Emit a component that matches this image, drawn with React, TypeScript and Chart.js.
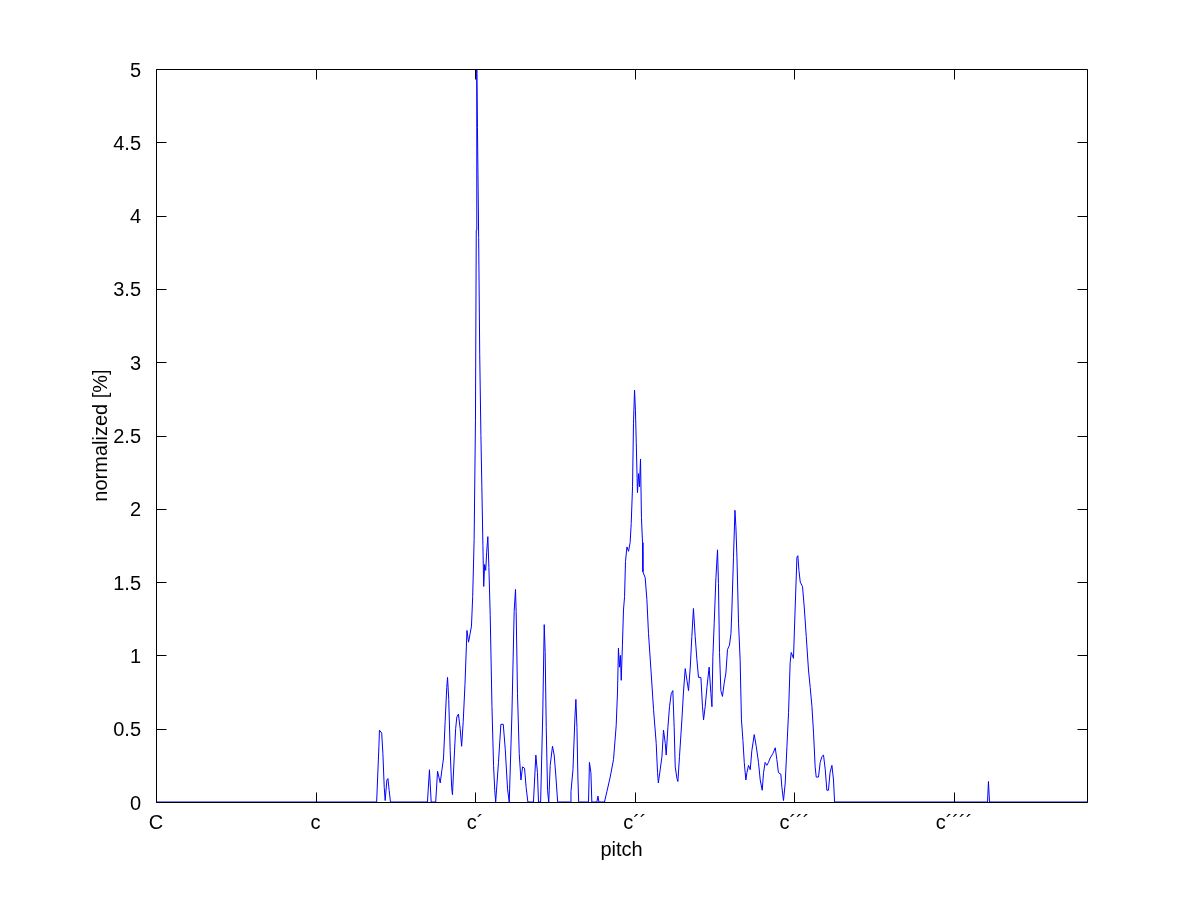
import { useEffect, useRef } from "react";
import { Chart, registerables } from "chart.js";

Chart.register(...registerables);

// Pitch axis in semitones above C (C = 0, c = 12, c´ = 24, ...)
const pitchSemitones: number[] = [
  0, 16.59, 16.76, 16.8, 16.97, 17.06, 17.16, 17.23, 17.36, 17.44, 17.53, 17.63,
  20.41, 20.56, 20.69, 21.03, 21.17, 21.37, 21.5, 21.62, 21.74, 21.86, 21.92, 22.01,
  22.12, 22.23, 22.29, 22.42, 22.53, 22.62, 22.74, 22.87, 22.98, 23.1, 23.23, 23.38,
  23.5, 23.62, 23.72, 23.81, 23.92, 24.02, 24.08, 24.12, 24.17, 24.26, 24.34, 24.43,
  24.5, 24.58, 24.64, 24.71, 24.79, 24.86, 24.95, 25.03, 25.13, 25.26, 25.38, 25.47,
  25.54, 25.75, 25.93, 26.11, 26.26, 26.43, 26.56, 26.76, 26.93, 27.03, 27.08, 27.18,
  27.31, 27.44, 27.56, 27.71, 27.83, 27.96, 28.38, 28.56, 28.68, 28.76, 28.92, 29.08,
  29.19, 29.26, 29.34, 29.44, 29.53, 29.64, 29.81, 29.94, 30.07, 30.2, 31.14, 31.2,
  31.35, 31.5, 31.57, 31.65, 31.72, 31.78, 32.52, 32.59, 32.7, 32.77, 33.15, 33.23,
  33.3, 33.72, 33.9, 34.15, 34.4, 34.6, 34.7, 34.77, 34.85, 34.92, 34.98, 35.07,
  35.15, 35.23, 35.3, 35.41, 35.53, 35.65, 35.73, 35.83, 35.9, 35.98, 36.05, 36.11,
  36.2, 36.28, 36.35, 36.43, 36.5, 36.58, 36.61, 36.78, 36.91, 37.03, 37.23, 37.41,
  37.61, 37.71, 37.77, 37.91, 38.04, 38.16, 38.29, 38.36, 38.49, 38.61, 38.74, 38.86,
  38.96, 39.04, 39.17, 39.24, 39.36, 39.54, 39.66, 39.79, 39.92, 40.04, 40.17, 40.29,
  40.41, 40.54, 40.67, 40.79, 40.97, 41.09, 41.17, 41.29, 41.42, 41.59, 41.72, 41.8,
  41.87, 41.97, 42.1, 42.22, 42.29, 42.37, 42.47, 42.59, 42.72, 42.85, 42.97, 43.12,
  43.23, 43.3, 43.42, 43.53, 43.6, 43.68, 43.8, 43.92, 44.02, 44.13, 44.23, 44.35,
  44.43, 44.55, 44.68, 44.8, 44.98, 45.13, 45.3, 45.43, 45.58, 45.68, 45.8, 45.93,
  46.05, 46.18, 46.38, 46.56, 46.68, 46.8, 46.98, 47.06, 47.18, 47.31, 47.44, 47.56,
  47.68, 47.76, 47.93, 48.06, 48.19, 48.26, 48.34, 48.44, 48.61, 48.74, 48.89, 49.06,
  49.19, 49.32, 49.44, 49.56, 49.64, 49.81, 49.94, 50.07, 50.19, 50.32, 50.44, 50.56,
  50.68, 50.82, 50.94, 51.02, 62.52, 62.59, 62.67, 70,
];

// Normalized occurrence [%] for each pitch value above
const normalizedPercent: number[] = [
  0, 0, 0.38, 0.49, 0.47, 0.33, 0.1, 0.01, 0.15, 0.16, 0.08, 0,
  0, 0.22, 0, 0, 0.21, 0.13, 0.22, 0.3, 0.55, 0.78, 0.85, 0.7,
  0.35, 0.1, 0.05, 0.3, 0.5, 0.58, 0.6, 0.5, 0.38, 0.55, 0.8, 1.17,
  1.09, 1.15, 1.2, 1.4, 1.79, 2.6, 3.9, 5.0, 4.6, 3.85, 3.05, 2.5,
  2.15, 1.75, 1.47, 1.62, 1.58, 1.7, 1.81, 1.6, 1.27, 0.65, 0.25, 0.08,
  0, 0.27, 0.53, 0.53, 0.36, 0.09, 0, 0.6, 1.3, 1.45, 1.3, 0.74,
  0.33, 0.15, 0.24, 0.23, 0.1, 0, 0, 0.32, 0.2, 0, 0, 0.6,
  1.21, 1.02, 0.51, 0.08, 0, 0.25, 0.38, 0.32, 0.17, 0, 0, 0.07,
  0.22, 0.58, 0.7, 0.51, 0.17, 0, 0, 0.27, 0.2, 0, 0, 0.04,
  0, 0, 0.07, 0.17, 0.29, 0.52, 0.75, 1.05, 0.92, 1.0, 0.83, 1.07,
  1.31, 1.4, 1.64, 1.74, 1.71, 1.77, 1.9, 2.15, 2.58, 2.81, 2.67, 2.45,
  2.11, 2.24, 2.15, 2.34, 1.94, 1.77, 1.57, 1.53, 1.38, 1.15, 0.88, 0.63,
  0.4, 0.2, 0.13, 0.22, 0.31, 0.49, 0.4, 0.32, 0.51, 0.65, 0.74, 0.76,
  0.51, 0.24, 0.16, 0.14, 0.31, 0.56, 0.75, 0.91, 0.83, 0.76, 0.92, 1.13,
  1.32, 1.13, 0.97, 0.85, 0.85, 0.65, 0.56, 0.65, 0.78, 0.92, 0.74, 0.65,
  0.99, 1.22, 1.53, 1.72, 1.49, 1.02, 0.76, 0.72, 0.81, 0.88, 1.04, 1.07,
  1.15, 1.31, 1.67, 1.99, 1.88, 1.67, 1.22, 0.97, 0.56, 0.42, 0.27, 0.15,
  0.2, 0.25, 0.22, 0.35, 0.46, 0.38, 0.27, 0.15, 0.08, 0.2, 0.27, 0.25,
  0.27, 0.3, 0.33, 0.37, 0.29, 0.2, 0.19, 0.1, 0.01, 0.13, 0.38, 0.61,
  0.95, 1.02, 0.98, 1.33, 1.67, 1.68, 1.58, 1.5, 1.47, 1.33, 1.13, 0.9,
  0.78, 0.65, 0.47, 0.24, 0.17, 0.17, 0.27, 0.31, 0.32, 0.22, 0.08, 0.08,
  0.2, 0.25, 0.15, 0, 0, 0.14, 0, 0,
];

const octaveTickValues: number[] = [0, 12, 24, 36, 48, 60];
const octaveTickLabels: string[] = ["C", "c", "c\u00B4", "c\u00B4\u00B4", "c\u00B4\u00B4\u00B4", "c\u00B4\u00B4\u00B4\u00B4"];
const yTickValues: number[] = [0, 0.5, 1, 1.5, 2, 2.5, 3, 3.5, 4, 4.5, 5];

const FONT_FAMILY = "'Liberation Sans', Arial, Helvetica, sans-serif";
const FONT_SIZE = 20;
const TICK_LEN = 10;

const matlabAxesPlugin = {
  id: "matlabAxes",
  afterDatasetsDraw(chart: any) {
    const { ctx, chartArea, scales } = chart;
    const { left, right, top, bottom } = chartArea;
    const L = Math.round(left) + 0.5;
    const R = Math.round(right) + 0.5;
    const T = Math.round(top) + 0.5;
    const B = Math.round(bottom) + 0.5;
    ctx.save();
    ctx.strokeStyle = "#000000";
    ctx.lineWidth = 1;
    ctx.beginPath();
    ctx.moveTo(L, T);
    ctx.lineTo(R, T);
    ctx.lineTo(R, B);
    ctx.lineTo(L, B);
    ctx.closePath();
    for (const v of yTickValues) {
      const py = Math.round(scales.y.getPixelForValue(v)) + 0.5;
      ctx.moveTo(L, py);
      ctx.lineTo(L + TICK_LEN, py);
      ctx.moveTo(R, py);
      ctx.lineTo(R - TICK_LEN, py);
    }
    for (const v of octaveTickValues) {
      const px = Math.round(scales.x.getPixelForValue(v)) + 0.5;
      ctx.moveTo(px, B);
      ctx.lineTo(px, B - TICK_LEN);
      ctx.moveTo(px, T);
      ctx.lineTo(px, T + TICK_LEN);
    }
    ctx.stroke();
    ctx.restore();
  },
};

export default function App() {
  const canvasRef = useRef<HTMLCanvasElement | null>(null);

  useEffect(() => {
    document.body.style.margin = "0";
    const canvas = canvasRef.current;
    if (!canvas) return;
    const points = pitchSemitones.map((p, i) => ({ x: p, y: normalizedPercent[i] }));
    const font = { family: FONT_FAMILY, size: FONT_SIZE };
    const chart = new Chart(canvas, {
      type: "line",
      data: {
        datasets: [
          {
            data: points,
            borderColor: "#0000ff",
            borderWidth: 1,
            pointRadius: 0,
            tension: 0,
            fill: false,
          },
        ],
      },
      options: {
        responsive: false,
        animation: false,
        devicePixelRatio: 1,
        layout: { padding: { left: 0, right: 114, top: 69, bottom: 0 } },
        plugins: {
          legend: { display: false },
          tooltip: { enabled: false },
        },
        scales: {
          x: {
            type: "linear",
            min: 0,
            max: 70,
            grid: { display: false },
            border: { display: false },
            afterBuildTicks: (scale: any) => {
              scale.ticks = octaveTickValues.map((v) => ({ value: v }));
            },
            afterFit: (scale: any) => {
              scale.height = 99;
            },
            ticks: {
              autoSkip: false,
              maxRotation: 0,
              minRotation: 0,
              padding: 1,
              color: "#000000",
              font,
              callback: (value: any) => {
                const idx = octaveTickValues.indexOf(Number(value));
                return idx >= 0 ? octaveTickLabels[idx] : "";
              },
            },
            title: {
              display: true,
              text: "pitch",
              color: "#000000",
              font,
              padding: { top: 0, bottom: 39 },
            },
          },
          y: {
            type: "linear",
            min: 0,
            max: 5,
            grid: { display: false },
            border: { display: false },
            afterBuildTicks: (scale: any) => {
              scale.ticks = yTickValues.map((v) => ({ value: v }));
            },
            afterFit: (scale: any) => {
              scale.width = 156;
            },
            ticks: {
              padding: 7,
              labelOffset: 2,
              color: "#000000",
              font,
              callback: (value: any) => String(Number(value)),
            },
            title: {
              display: true,
              text: "normalized [%]",
              color: "#000000",
              font,
              padding: { top: 89, bottom: 0 },
            },
          },
        },
      },
      plugins: [matlabAxesPlugin],
    });
    return () => chart.destroy();
  }, []);

  return (
    <div style={{ position: "fixed", left: 0, top: 0, width: 1201, height: 901, background: "#ffffff" }}>
      <canvas ref={canvasRef} width={1201} height={901} style={{ display: "block", width: 1201, height: 901 }} />
    </div>
  );
}
